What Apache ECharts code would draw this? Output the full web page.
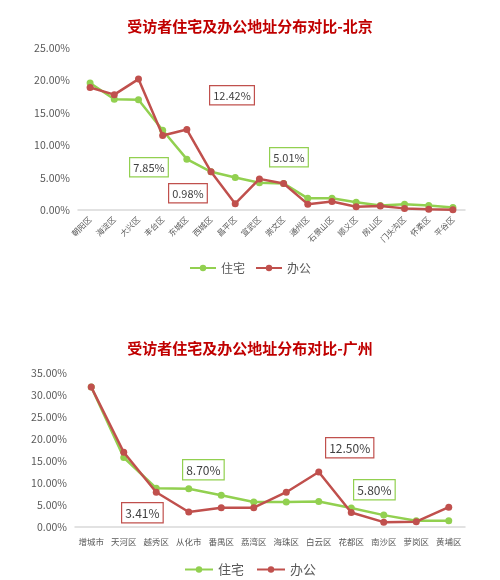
<!DOCTYPE html>
<html><head><meta charset="utf-8">
<script src="https://cdn.jsdelivr.net/npm/echarts@6/dist/echarts.min.js"></script>
<style>html,body{margin:0;padding:0;background:#fff}#c{width:500px;height:580px}</style>
</head><body><div id="c"></div>
<script>
const bjCategories = ['朝阳区','海淀区','大兴区','丰台区','东城区','西城区','昌平区','宣武区','崇文区','通州区','石景山区','顺义区','房山区','门头沟区','怀柔区','平谷区'];
const bjHome = [19.6, 17.1, 17.0, 12.3, 7.85, 5.9, 5.01, 4.2, 4.1, 1.8, 1.8, 1.2, 0.7, 0.9, 0.7, 0.4];
const bjOffice = [18.9, 17.8, 20.2, 11.5, 12.42, 5.9, 0.98, 4.8, 4.1, 0.9, 1.3, 0.5, 0.6, 0.25, 0.1, 0.05];
const gzCategories = ['增城市','天河区','越秀区','从化市','番禺区','荔湾区','海珠区','白云区','花都区','南沙区','萝岗区','黄埔区'];
const gzHome = [31.8, 15.8, 8.8, 8.7, 7.2, 5.7, 5.7, 5.8, 4.3, 2.7, 1.4, 1.4];
const gzOffice = [31.8, 17.0, 7.9, 3.41, 4.4, 4.4, 7.9, 12.5, 3.3, 1.1, 1.2, 4.5];
const bjTicks = [0, 5, 10, 15, 20, 25];
const gzTicks = [0, 5, 10, 15, 20, 25, 30, 35];
const bjNotes = ['12.42%', '7.85%', '0.98%', '5.01%'];
const gzNotes = ['12.50%', '8.70%', '3.41%', '5.80%'];

const GREEN = '#92d050', RED = '#c0504d';
const chart = echarts.init(document.getElementById('c'), null, {renderer: 'canvas'});
const font = '"Noto Sans CJK SC", "Microsoft YaHei", sans-serif';
const pct = v => v.toFixed(2) + '%';

function yAx(idx, ticks) {
  return {
    gridIndex: idx, type: 'value', min: ticks[0], max: ticks[ticks.length-1], interval: 5,
    axisLine: {show: false}, axisTick: {show: false}, splitLine: {show: false},
    axisLabel: {formatter: pct, color: '#595959', fontSize: 10.5, fontFamily: font, margin: 8}
  };
}
function xAx(idx, cats, rot, fs) {
  return {
    gridIndex: idx, type: 'category', data: cats, boundaryGap: true,
    axisLine: {lineStyle: {color: '#d9d9d9', width: 1.5}}, axisTick: {show: false},
    axisLabel: {interval: 0, rotate: rot, color: '#595959', fontSize: fs, fontFamily: font, margin: rot ? 8 : 11}
  };
}
function ser(name, data, color, idx) {
  return {
    name, type: 'line', data, xAxisIndex: idx, yAxisIndex: idx,
    symbol: 'circle', symbolSize: 7, showSymbol: true,
    lineStyle: {color, width: 2.5}, itemStyle: {color}, z: name === '办公' ? 3 : 2
  };
}
function note(text, x, y, color, fs) {
  return {
    type: 'text', left: x, top: y,
    style: {text, fill: '#404040', font: fs + 'px ' + font,
      backgroundColor: '#fff', borderColor: color, borderWidth: 1.2, padding: [4, 3, 3, 3]}
  };
}

chart.setOption({
  animation: false,
  title: [
    {text: '受访者住宅及办公地址分布对比-北京', left: 'center', top: 14,
     textStyle: {color: '#c00000', fontSize: 15, fontWeight: 'bold', fontFamily: font}},
    {text: '受访者住宅及办公地址分布对比-广州', left: 'center', top: 336,
     textStyle: {color: '#c00000', fontSize: 15, fontWeight: 'bold', fontFamily: font}}
  ],
  legend: [
    {data: ['住宅','办公'], top: 257, left: 'center', itemWidth: 26, itemHeight: 8, itemGap: 10,
     textStyle: {color: '#595959', fontSize: 12, fontFamily: font}},
    {data: ['住宅','办公'], top: 558, left: 'center', itemWidth: 28, itemHeight: 8, itemGap: 12,
     textStyle: {color: '#595959', fontSize: 13, fontFamily: font}}
  ],
  grid: [
    {left: 78, right: 35, top: 48, height: 162},
    {left: 75, right: 35, top: 373, height: 154}
  ],
  xAxis: [xAx(0, bjCategories, 45, 8), xAx(1, gzCategories, 0, 8.5)],
  yAxis: [yAx(0, bjTicks), yAx(1, gzTicks)],
  series: [
    ser('住宅', bjHome, GREEN, 0), ser('办公', bjOffice, RED, 0),
    ser('住宅', gzHome, GREEN, 1), ser('办公', gzOffice, RED, 1)
  ],
  graphic: [
    note(bjNotes[0], 209, 85, RED, 11),
    note(bjNotes[1], 129, 157, GREEN, 11),
    note(bjNotes[2], 168, 183, RED, 11),
    note(bjNotes[3], 269, 147, GREEN, 11),
    note(gzNotes[0], 325, 437, RED, 12),
    note(gzNotes[1], 182, 459, GREEN, 12),
    note(gzNotes[2], 121, 502, RED, 12),
    note(gzNotes[3], 353, 479, GREEN, 12)
  ]
});
</script></body></html>
